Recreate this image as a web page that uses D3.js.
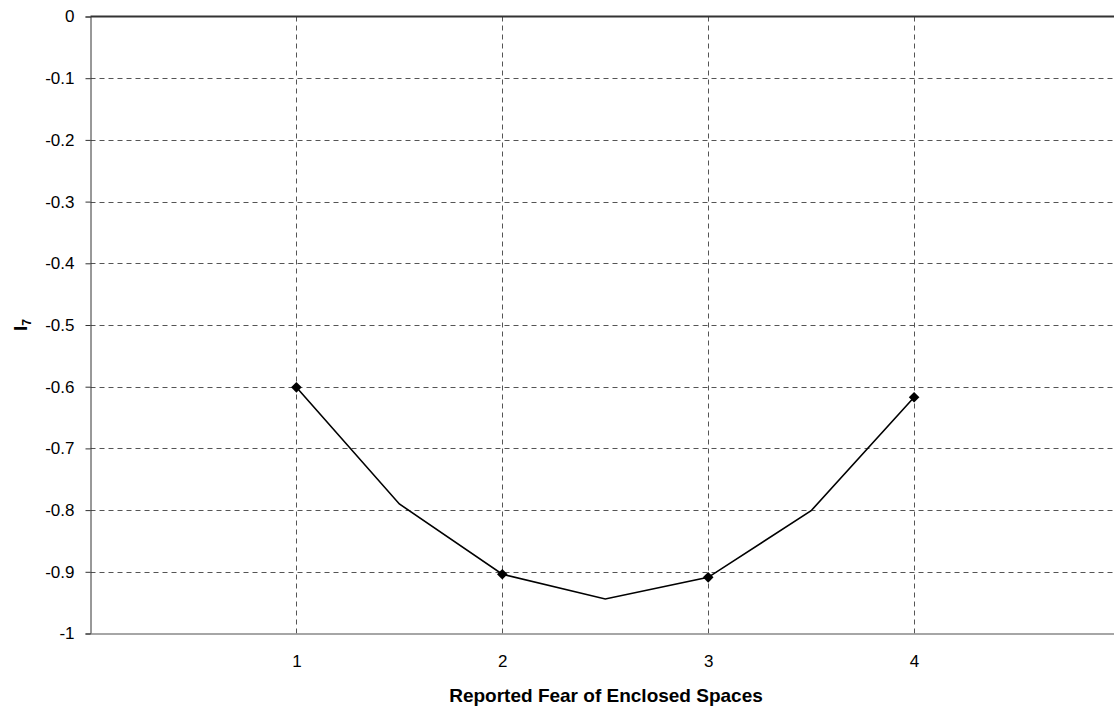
<!DOCTYPE html>
<html>
<head>
<meta charset="utf-8">
<script src="https://cdn.jsdelivr.net/npm/d3@7"></script>
<style>
  body { margin: 0; background: #fff; }
  svg { display: block; font-family: Arial, "Liberation Sans", sans-serif; }
</style>
</head>
<body>
<script>
// fear level (half steps are interpolated in the source chart)
const fearLevels = [1, 1.5, 2, 2.5, 3, 3.5, 4];
const i7Values = [-0.601, -0.790, -0.904, -0.944, -0.909, -0.801, -0.617];
const markerLevels = [1, 2, 3, 4];
const xTicks = [1, 2, 3, 4];
const yTicks = [0, -0.1, -0.2, -0.3, -0.4, -0.5, -0.6, -0.7, -0.8, -0.9, -1];

const width = 1114, height = 709;
const margin = { top: 16.5, left: 90.5, right: -6, bottom: 75.5 };
const fontFamily = 'Arial, "Liberation Sans", sans-serif';

const svg = d3.select('body').append('svg')
    .attr('width', width)
    .attr('height', height);

const x = d3.scaleLinear()
    .domain([0, 5])
    .range([margin.left, width - margin.right]);

const y = d3.scaleLinear()
    .domain([-1, 0])
    .range([height - margin.bottom, margin.top]);

// dashed grid
const grid = svg.append('g').attr('class', 'grid');
grid.selectAll('line.h')
    .data(yTicks.filter(d => d !== 0 && d !== -1))
    .join('line')
    .attr('class', 'h')
    .attr('x1', margin.left).attr('x2', width)
    .attr('y1', d => Math.round(y(d)) + 0.5).attr('y2', d => Math.round(y(d)) + 0.5)
    .attr('stroke', '#555').attr('stroke-dasharray', '5,4');
grid.selectAll('line.v')
    .data(xTicks)
    .join('line')
    .attr('class', 'v')
    .attr('x1', d => Math.round(x(d)) + 0.5).attr('x2', d => Math.round(x(d)) + 0.5)
    .attr('y1', y(0)).attr('y2', y(-1))
    .attr('stroke', '#555').attr('stroke-dasharray', '5,4');

// top line at 0
svg.append('line')
    .attr('x1', margin.left).attr('x2', width)
    .attr('y1', y(0)).attr('y2', y(0))
    .attr('stroke', '#333').attr('stroke-width', 2);

// y axis
const yAxis = svg.append('g')
    .attr('transform', 'translate(' + margin.left + ',0)')
    .call(d3.axisLeft(y).tickValues(yTicks).tickSize(5).tickPadding(11)
        .tickFormat(d => String(d)));
yAxis.select('.domain').attr('stroke', '#333');
yAxis.selectAll('.tick line').attr('stroke', '#333');
yAxis.selectAll('text').attr('font-size', 17).attr('fill', '#000')
    .attr('font-family', fontFamily);

// x axis
const xAxis = svg.append('g')
    .attr('transform', 'translate(0,' + y(-1) + ')')
    .call(d3.axisBottom(x).tickValues(xTicks).tickSize(0).tickPadding(21)
        .tickFormat(d => String(d)));
xAxis.select('.domain').attr('stroke', '#888').attr('stroke-width', 1.5);
xAxis.selectAll('text').attr('font-size', 17).attr('fill', '#000')
    .attr('font-family', fontFamily);

// series line
const line = d3.line()
    .x((d, i) => x(fearLevels[i]))
    .y(d => y(d));
svg.append('path')
    .datum(i7Values)
    .attr('fill', 'none')
    .attr('stroke', '#000')
    .attr('stroke-width', 1.6)
    .attr('d', line);

// diamond markers
const markerData = markerLevels.map(l => ({ l, v: i7Values[fearLevels.indexOf(l)] }));
svg.selectAll('path.marker')
    .data(markerData)
    .join('path')
    .attr('class', 'marker')
    .attr('transform', d => 'translate(' + x(d.l) + ',' + y(d.v) + ')')
    .attr('d', d3.symbol(d3.symbolDiamond2, 72))
    .attr('fill', '#000');

// axis titles
svg.append('text')
    .attr('x', 606).attr('y', 702)
    .attr('text-anchor', 'middle')
    .attr('font-size', 19).attr('font-weight', 'bold')
    .text('Reported Fear of Enclosed Spaces');

const yt = svg.append('text')
    .attr('transform', 'translate(27,325) rotate(-90)')
    .attr('text-anchor', 'middle')
    .attr('font-size', 19).attr('font-weight', 'bold');
yt.append('tspan').text('I');
yt.append('tspan').attr('font-size', 12).attr('dy', 4).text('7');
</script>
</body>
</html>
